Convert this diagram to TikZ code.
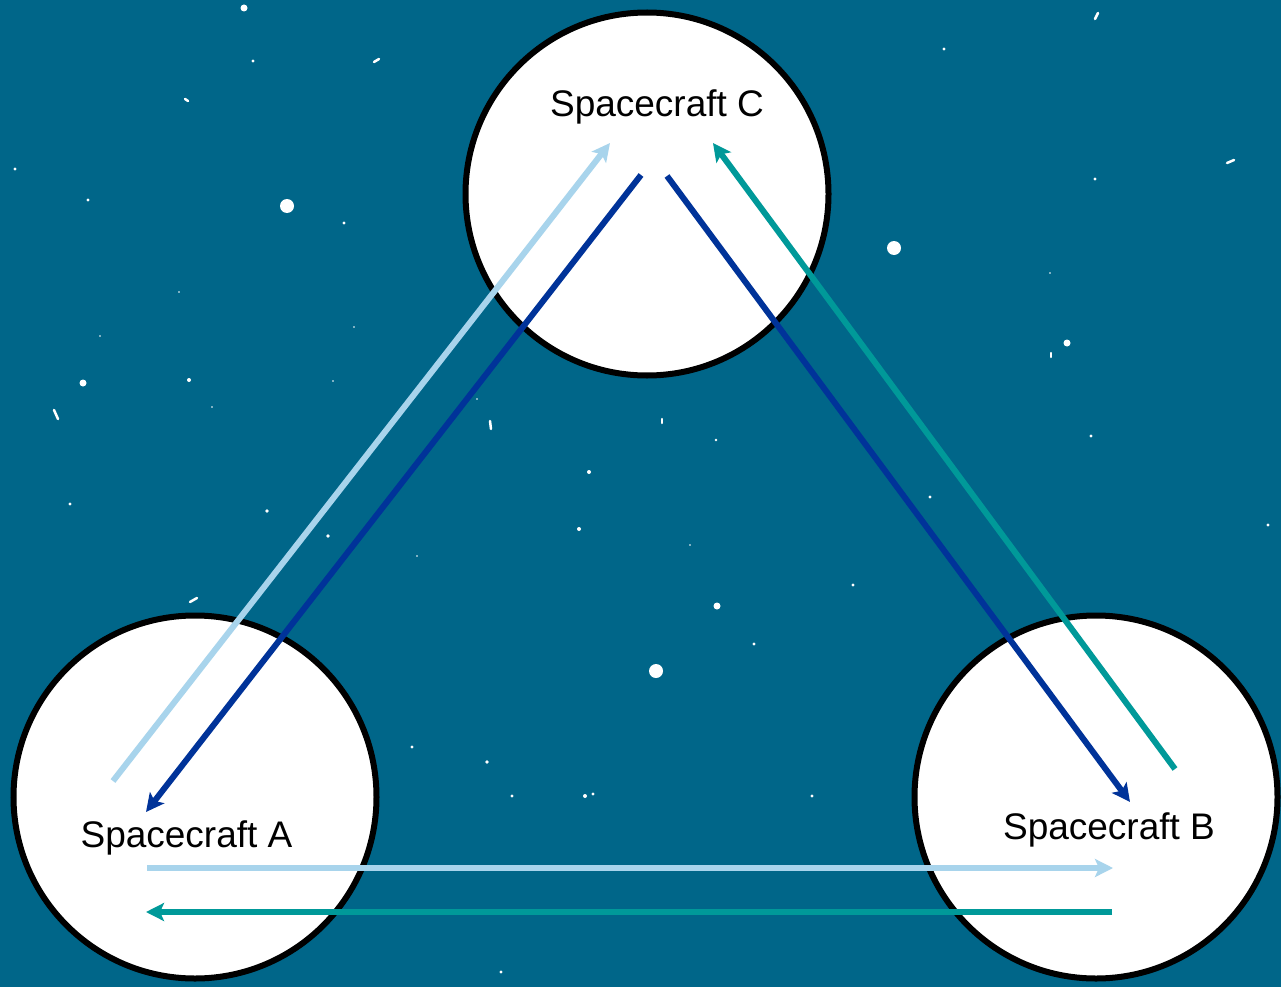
\documentclass[tikz,border=0pt]{standalone}
\usepackage{fontspec}
\setmainfont{Liberation Sans}
\usetikzlibrary{arrows.meta}
\definecolor{space}{RGB}{0,102,137}
\definecolor{lightlink}{RGB}{168,212,236}
\definecolor{darklink}{RGB}{0,51,153}
\definecolor{teallink}{RGB}{0,153,153}
\tikzset{
  craft/.style={circle, draw=black, fill=white, line width=6pt, minimum size=363pt, inner sep=0pt},
  craftlabel/.style={anchor=base, font=\fontsize{37}{44}\selectfont, inner sep=0pt},
  link/.style={line width=6pt, -{Stealth[length=18pt,width=18pt,inset=4pt]}},
  stardot/.style={fill=white, draw=none},
  streak/.style={draw=white, line width=2.5pt, line cap=round}
}
\begin{document}
\begin{tikzpicture}[x=1pt,y=-1pt]
  % sky
  \fill[space] (0,0) rectangle (1281,987);
  \useasboundingbox (0,0) rectangle (1281,987);

  % stars
  \foreach \sx/\sy/\sr in {
    244/8/3.5, 253/61/1.6, 15/169/1.6, 88/200/1.6, 287/206/7, 344/223/1.6,
    179/292/0.8, 354/327/0.8, 100/336/0.8, 83/383/3.5, 189/380/2, 212/407/0.9,
    333/381/0.8, 944/49/1.6, 1095/179/1.6, 894/248/7, 1050/273/0.8, 1067/343/3.5,
    1091/436/1.6, 477/399/0.8, 716/440/1.3, 589/472/2, 579/529/2, 417/556/0.8,
    690/545/0.8, 853/585/1.6, 717/606/3.5, 754/644/1.6, 656/671/7, 412/747/1.6,
    487/762/1.8, 512/796/1.6, 585/796/2, 593/794/1.6, 812/796/1.6, 501/972/1.6,
    70/504/1.6, 267/511/1.8, 328/536/1.8, 930/497/1.6, 1268/525/1.6}
    \fill[stardot] (\sx,\sy) circle[radius=\sr];
  \foreach \ax/\ay/\bx/\by in {
    374/62/379/59, 185/99/188/101, 54/410/58/419, 1095/19/1098/13,
    1227/163/1234/160, 1051/353/1051/357, 490/421/491/429, 662/419/662/423,
    190/602/197/598}
    \draw[streak] (\ax,\ay) -- (\bx,\by);

  % spacecraft
  \node[craft] (C) at (647,194) {};
  \node[craft] (A) at (195,797) {};
  \node[craft] (B) at (1096,797) {};

  \node[craftlabel] (labC) at (657,117) {Spacecraft C};
  \node[craftlabel] (labA) at (186.5,847) {Spacecraft A};
  \node[craftlabel] (labB) at (1109,839) {Spacecraft B};

  % link end points
  \coordinate (ac0) at (113,781);
  \coordinate (ac1) at (610,143);
  \coordinate (ca0) at (641,175);
  \coordinate (ca1) at (146,812);
  \coordinate (cb0) at (667,176);
  \coordinate (cb1) at (1130,802);
  \coordinate (bc0) at (1175,769);
  \coordinate (bc1) at (713,143);
  \coordinate (ab0) at (147,868);
  \coordinate (ab1) at (1113,868);
  \coordinate (ba0) at (1112,912);
  \coordinate (ba1) at (146,912);

  % links
  \draw[link, lightlink] (ac0) -- (ac1);
  \draw[link, darklink] (ca0) -- (ca1);
  \draw[link, darklink] (cb0) -- (cb1);
  \draw[link, teallink] (bc0) -- (bc1);
  \draw[link, lightlink] (ab0) -- (ab1);
  \draw[link, teallink] (ba0) -- (ba1);
\end{tikzpicture}
\end{document}
